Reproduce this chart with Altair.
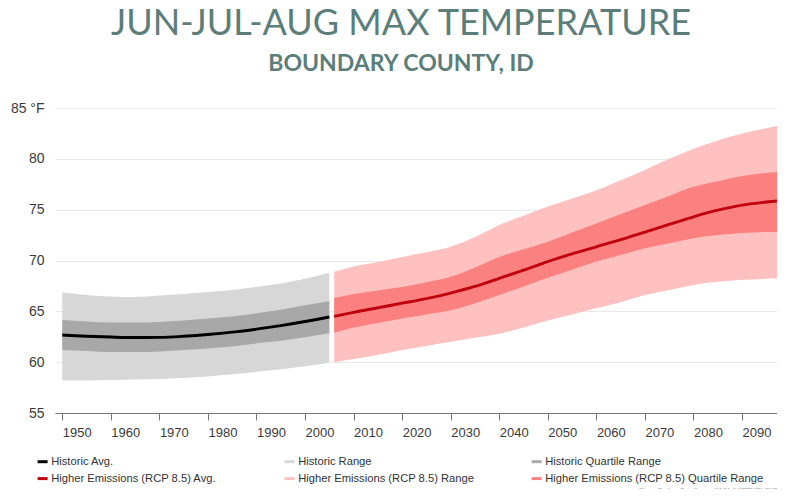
import altair as alt
import pandas as pd

# ---------------- data ----------------
hist_years = [1950, 1955, 1960, 1965, 1970, 1975, 1980, 1985, 1990, 1995, 2000, 2005]
hist_avg = [62.67, 62.55, 62.47, 62.42, 62.44, 62.55, 62.72, 62.95, 63.25, 63.6, 64.0, 64.45]
hist_rmax = [66.85, 66.6, 66.45, 66.4, 66.55, 66.7, 66.9, 67.1, 67.4, 67.75, 68.2, 68.8]
hist_rmin = [58.2, 58.2, 58.25, 58.3, 58.35, 58.45, 58.6, 58.8, 59.05, 59.3, 59.6, 59.95]
hist_qmax = [64.15, 64.0, 63.9, 63.9, 63.95, 64.1, 64.3, 64.5, 64.8, 65.15, 65.6, 66.0]
hist_qmin = [61.2, 61.1, 61.0, 61.0, 61.05, 61.2, 61.35, 61.55, 61.85, 62.1, 62.45, 62.85]

fut_years = [2006, 2010, 2015, 2020, 2025, 2030, 2035, 2040, 2045, 2050,
             2055, 2060, 2065, 2070, 2075, 2080, 2085, 2090, 2095, 2099]
fut_avg = [64.5, 64.9, 65.35, 65.8, 66.25, 66.8, 67.45, 68.25, 69.05, 69.9,
           70.65, 71.35, 72.05, 72.8, 73.55, 74.3, 74.95, 75.45, 75.75, 75.95]
fut_rmax = [68.9, 69.4, 69.85, 70.35, 70.8, 71.35, 72.3, 73.5, 74.4, 75.3,
            76.1, 76.9, 77.9, 78.9, 80.0, 81.0, 81.8, 82.5, 83.0, 83.4]
fut_rmin = [60.0, 60.3, 60.7, 61.2, 61.6, 62.0, 62.4, 62.8, 63.4, 64.1,
            64.7, 65.3, 65.9, 66.6, 67.1, 67.6, 67.9, 68.1, 68.2, 68.3]
fut_qmax = [66.3, 66.7, 67.05, 67.4, 67.85, 68.4, 69.3, 70.35, 71.1, 71.85,
            72.75, 73.65, 74.55, 75.45, 76.35, 77.25, 77.8, 78.3, 78.6, 78.8]
fut_qmin = [62.9, 63.4, 63.85, 64.3, 64.7, 65.1, 65.8, 66.6, 67.45, 68.3,
            69.1, 69.9, 70.55, 71.2, 71.7, 72.2, 72.5, 72.7, 72.8, 72.85]

series_names = [
    "Historic Avg.",
    "Historic Range",
    "Historic Quartile Range",
    "Higher Emissions (RCP 8.5) Avg.",
    "Higher Emissions (RCP 8.5) Range",
    "Higher Emissions (RCP 8.5) Quartile Range",
]
series_colors = ["#000000", "#d7d7d7", "#a8a8a8", "#c0000d", "#ffc0c0", "#fb8080"]

tick_years = [1950, 1960, 1970, 1980, 1990, 2000, 2010, 2020, 2030, 2040, 2050, 2060, 2070, 2080, 2090]
y_ticks = [55, 60, 65, 70, 75, 80, 85]

TITLE = "JUN-JUL-AUG MAX TEMPERATURE"
SUBTITLE = "BOUNDARY COUNTY, ID"
FOOTER = "Climate Toolbox, Data Source: MACAv2-METDATA CMIP5 (UC Merced)"

hist = pd.DataFrame({"year": hist_years, "avg": hist_avg, "rmin": hist_rmin,
                     "rmax": hist_rmax, "qmin": hist_qmin, "qmax": hist_qmax})
fut = pd.DataFrame({"year": fut_years, "avg": fut_avg, "rmin": fut_rmin,
                    "rmax": fut_rmax, "qmin": fut_qmin, "qmax": fut_qmax})
legend_df = pd.DataFrame({"series": series_names, "year": [1900] * 6, "avg": [40] * 6})

# ---------------- encodings ----------------
xscale = alt.Scale(domain=[1948.5, 2097.2], nice=False, zero=False)
yscale = alt.Scale(domain=[55, 85], nice=False, zero=False)

xaxis = alt.Axis(
    values=tick_years, format="d", grid=False,
    labelAlign="left", labelBaseline="middle", labelPadding=12, labelOffset=0,
    labelFont="Liberation Sans", labelFontSize=13, labelColor="#3a3a3a",
    tickSize=7, tickColor="#777777", domainColor="#777777",
    titleFont="Liberation Sans", titleFontSize=5.5, titleColor="#9a9a9a",
    titleFontWeight="normal", titleAlign="left", titleBaseline="middle",
    titleX=583, titleY=76, titleAnchor="start",
)
yaxis = alt.Axis(
    values=y_ticks, grid=True, gridColor="#e9e9e9", domain=False, ticks=False,
    labelFont="Liberation Sans", labelFontSize=14, labelColor="#3a3a3a",
    labelPadding=11,
    labelExpr="datum.value == 85 ? '85 °F' : datum.label",
)


def X():
    return alt.X("year:Q", scale=xscale, axis=xaxis, title=FOOTER)


def Y(field):
    return alt.Y(f"{field}:Q", scale=yscale, axis=yaxis, title=None)


def Y2(field):
    return alt.Y2(f"{field}:Q")


def band(df, lo, hi, color):
    return alt.Chart(df).mark_area(color=color, interpolate="monotone", clip=True, opacity=1).encode(
        x=X(), y=Y(lo), y2=Y2(hi))


def avg_line(df, color):
    return alt.Chart(df).mark_line(color=color, strokeWidth=2.9, interpolate="monotone", clip=True).encode(
        x=X(), y=Y("avg"))


legend_layer = alt.Chart(legend_df).mark_point(
    shape="M-1,-0.3H1V0.3H-1Z", filled=True, size=169, opacity=1, clip=True
).encode(
    x=X(), y=Y("avg"),
    color=alt.Color(
        "series:N",
        scale=alt.Scale(domain=series_names, range=series_colors),
        legend=alt.Legend(
            title=None, orient="none", legendX=-18, legendY=348, columns=3,
            direction="horizontal",
            gridAlign="all", columnPadding=14, rowPadding=5,
            labelFont="Liberation Sans", labelFontSize=11.2,
            labelColor="#333333", labelOffset=3, labelLimit=300,
            symbolOpacity=1, symbolStrokeWidth=0,
        ),
    ),
)

chart = alt.layer(
    band(hist, "rmin", "rmax", series_colors[1]),
    band(hist, "qmin", "qmax", series_colors[2]),
    avg_line(hist, series_colors[0]),
    band(fut, "rmin", "rmax", series_colors[4]),
    band(fut, "qmin", "qmax", series_colors[5]),
    avg_line(fut, series_colors[3]),
    legend_layer,
).properties(
    width=722, height=305,
    title=alt.TitleParams(
        text=TITLE, subtitle=SUBTITLE, anchor="middle", dx=-15,
        font="Lato", fontSize=36, fontWeight="normal", color="#5b7e7a",
        subtitleFont="Lato", subtitleFontSize=23, subtitleColor="#5b7e7a",
        subtitleFontWeight="bold", subtitlePadding=10, offset=24,
    ),
    autosize=alt.AutoSizeParams(type="none"),
    padding={"left": 47, "top": 100, "right": 0, "bottom": 76},
).configure_view(stroke=None)

chart.save("out.html", embed_options={"renderer": "svg", "actions": False})
